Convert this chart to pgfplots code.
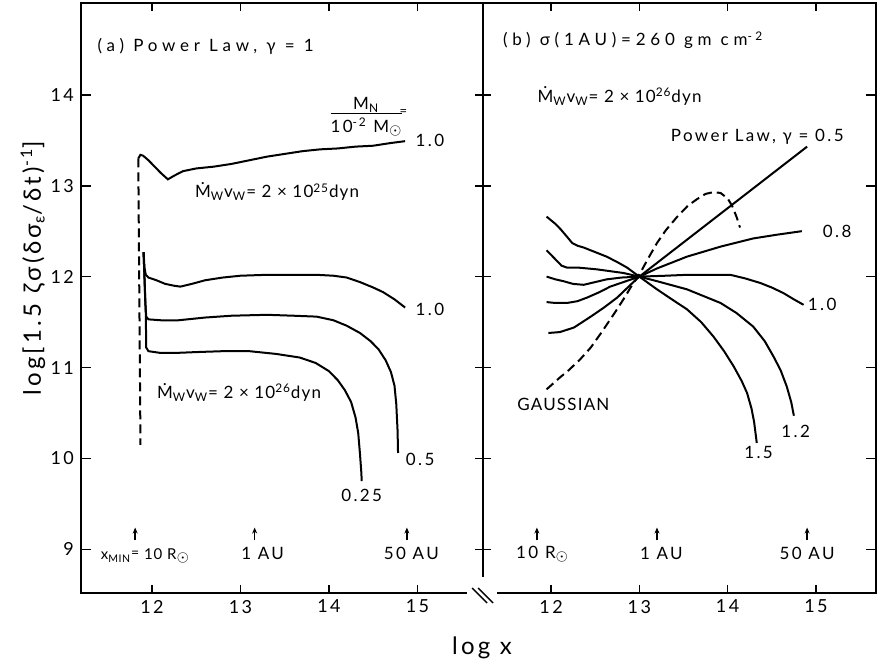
\documentclass[border=0pt]{standalone}
\usepackage{fontspec}
\setmainfont{Lato}[LetterSpace=14]
\usepackage{pgfplots}
\pgfplotsset{compat=1.18}
\usetikzlibrary{arrows.meta}

\newcommand{\Md}{\ooalign{M\cr\hidewidth\raisebox{0.78em}{.}\hidewidth\cr}}
\newcommand{\subs}[1]{\textsubscript{#1}}
\newcommand{\sups}[1]{\textsuperscript{#1}}
\newcommand{\sun}{\raisebox{-0.25ex}{\scriptsize$\odot$}}
\newcommand{\tight}{\addfontfeatures{LetterSpace=7}}
\newcommand{\wide}[1]{\addfontfeatures{LetterSpace=#1}}

\tikzset{
  note/.style={font=\fontsize{8.5}{10}\selectfont, inner sep=1pt},
  dashy/.style={dash pattern=on 4.5pt off 2.5pt},
  arr/.style={-{Stealth[length=3pt,width=2.5pt]}, line width=0.7pt},
}
\pgfplotsset{
  panel/.style={
    scale only axis,
    height=295pt,
    ymin=8.52, ymax=15.01,
    xtick={12,13,14,15}, ytick={9,10,11,12,13,14},
    tick align=inside,
    major tick length=4pt,
    ytick pos=both,
    axis line style={line width=0.9pt},
    every tick/.style={draw=black, line width=0.8pt},
    ticklabel style={font=\fontsize{9}{10}\selectfont},
    /pgf/number format/assume math mode=true,
    clip=false,
    every axis plot post/.append style={line width=1pt, black, mark=none},
  },
}

\begin{document}
\begin{tikzpicture}

% ---- panel (a)
\begin{axis}[panel, at={(0,0)}, anchor=south west, width=201pt,
  xmin=11.198, xmax=15.74]

% tick marks
\draw[line width=0.8pt]
  (axis cs:12,8.52) -- (axis cs:12,8.608) (axis cs:13,8.52) -- (axis cs:13,8.608)
  (axis cs:14,8.52) -- (axis cs:14,8.608) (axis cs:15,8.52) -- (axis cs:15,8.608)
  (axis cs:12,15.01) -- (axis cs:12,14.933) (axis cs:13,15.01) -- (axis cs:13,14.933)
  (axis cs:14,15.01) -- (axis cs:14,14.933) (axis cs:15,15.01) -- (axis cs:15,14.933)
  (axis cs:11.198,9) -- (axis cs:11.311,9) (axis cs:11.198,10) -- (axis cs:11.311,10)
  (axis cs:11.198,11) -- (axis cs:11.311,11) (axis cs:11.198,12) -- (axis cs:11.311,12)
  (axis cs:11.198,13) -- (axis cs:11.311,13) (axis cs:11.198,14) -- (axis cs:11.311,14)
  (axis cs:15.684,9) -- (axis cs:15.797,9) (axis cs:15.684,10) -- (axis cs:15.797,10)
  (axis cs:15.684,11) -- (axis cs:15.797,11) (axis cs:15.684,12) -- (axis cs:15.797,12)
  (axis cs:15.684,13) -- (axis cs:15.797,13) (axis cs:15.684,14) -- (axis cs:15.797,14);

\addplot[dashy] coordinates {(11.845,13.30) (11.87,10.15)};
% M_N = 1.0, 2e25 dyn
\addplot coordinates {(11.845,13.30) (11.87,13.34) (11.90,13.33) (11.96,13.28)
  (12.02,13.22) (12.10,13.14) (12.18,13.07) (12.25,13.11) (12.35,13.16)
  (12.50,13.19) (12.70,13.21) (12.90,13.24) (13.10,13.28) (13.30,13.32)
  (13.50,13.35) (13.70,13.38) (13.90,13.40) (14.10,13.41) (14.30,13.43)
  (14.50,13.44) (14.70,13.47) (14.86,13.49)};
% M_N = 1.0, 2e26 dyn
\addplot coordinates {(11.905,12.27) (11.915,12.10) (11.93,12.02) (11.96,11.99)
  (12.05,11.96) (12.15,11.92) (12.25,11.90) (12.32,11.89) (12.45,11.92)
  (12.60,11.96) (12.80,11.99) (13.00,12.01) (13.30,12.02) (13.60,12.02)
  (13.86,12.02) (14.05,12.01) (14.20,11.99) (14.35,11.94) (14.50,11.88)
  (14.61,11.83) (14.74,11.75) (14.86,11.66)};
% M_N = 0.5
\addplot coordinates {(11.905,12.27) (11.925,11.70) (11.935,11.56) (11.96,11.53)
  (12.10,11.52) (12.30,11.52) (12.60,11.55) (12.90,11.57) (13.30,11.58)
  (13.60,11.57) (13.86,11.56) (14.05,11.52) (14.20,11.46) (14.35,11.38)
  (14.47,11.29) (14.56,11.20) (14.64,11.08) (14.70,10.95) (14.74,10.80)
  (14.76,10.60) (14.775,10.30) (14.78,10.06)};
% M_N = 0.25
\addplot coordinates {(11.905,12.27) (11.93,11.60) (11.935,11.22) (11.96,11.18)
  (12.10,11.16) (12.25,11.16) (12.50,11.17) (12.80,11.18) (13.10,11.18)
  (13.40,11.15) (13.67,11.11) (13.85,11.05) (14.00,10.96) (14.10,10.86)
  (14.18,10.75) (14.25,10.62) (14.30,10.45) (14.33,10.28) (14.35,10.05)
  (14.365,9.85) (14.37,9.75)};

\node[note, anchor=west] at (axis cs:11.36,14.53) {\wide{28}(a) Power Law, γ = 1};
\node[note] at (axis cs:14.42,13.76) {\begin{tabular}{@{}c@{}}M\subs{N}\\[-1pt]\hline\rule{0pt}{9pt}10\sups{-2} M\sun\end{tabular}};
\node[note, font=\fontsize{6.5}{7}\selectfont] at (axis cs:14.84,13.81) {=};
\node[note] at (axis cs:15.14,13.50) {1.0};
\node[note, anchor=west] at (axis cs:12.46,12.93) {\tight\Md\subs{W}v\subs{W}= 2 × 10\sups{25}dyn};
\node[note] at (axis cs:15.14,11.64) {1.0};
\node[note, anchor=west] at (axis cs:12.03,10.72) {\tight\Md\subs{W}v\subs{W}= 2 × 10\sups{26}dyn};
\node[note] at (axis cs:15.03,9.99) {0.5};
\node[note] at (axis cs:14.37,9.59) {0.25};

\draw[arr] (axis cs:11.81,9.10) -- (axis cs:11.81,9.24);
\draw[arr] (axis cs:13.16,9.10) -- (axis cs:13.16,9.24);
\draw[arr] (axis cs:14.88,9.10) -- (axis cs:14.88,9.24);
\node[note, font=\fontsize{7.5}{9}\selectfont] at (axis cs:11.92,8.93) {\wide{6}x\subs{MIN}\raisebox{0.3ex}{\scriptsize=} 10 R\sun};
\node[note] at (axis cs:13.25,8.95) {1 AU};
\node[note] at (axis cs:14.93,8.95) {50 AU};

\node[rotate=90, font=\fontsize{12}{14}\selectfont] at ([xshift=-24pt]rel axis cs:0,0.55)
  {log[1.5 ζσ(δσ\subs{ε}/δt)\sups{-1}]};
\end{axis}

% ---- panel (b)
\begin{axis}[panel, at={(201pt,0)}, anchor=south west, width=196.5pt,
  xmin=11.23, xmax=15.68, yticklabels={}]

% tick marks
\draw[line width=0.8pt]
  (axis cs:12,8.52) -- (axis cs:12,8.608) (axis cs:13,8.52) -- (axis cs:13,8.608)
  (axis cs:14,8.52) -- (axis cs:14,8.608) (axis cs:15,8.52) -- (axis cs:15,8.608)
  (axis cs:12,15.01) -- (axis cs:12,14.933) (axis cs:13,15.01) -- (axis cs:13,14.933)
  (axis cs:14,15.01) -- (axis cs:14,14.933) (axis cs:15,15.01) -- (axis cs:15,14.933)
  (axis cs:15.68,9) -- (axis cs:15.567,9) (axis cs:15.68,10) -- (axis cs:15.567,10)
  (axis cs:15.68,11) -- (axis cs:15.567,11) (axis cs:15.68,12) -- (axis cs:15.567,12)
  (axis cs:15.68,13) -- (axis cs:15.567,13) (axis cs:15.68,14) -- (axis cs:15.567,14);

% gamma = 1.5
\addplot coordinates {(11.95,12.66) (12.05,12.58) (12.11,12.52) (12.18,12.44)
  (12.24,12.37) (12.30,12.34) (12.37,12.32) (12.50,12.27) (12.63,12.22)
  (12.75,12.16) (12.86,12.10) (13.00,12.00) (13.20,11.86) (13.40,11.73)
  (13.54,11.64) (13.70,11.50) (13.84,11.34) (13.96,11.18) (14.07,11.01)
  (14.16,10.85) (14.22,10.72) (14.27,10.55) (14.30,10.40) (14.33,10.17)};
% gamma = 1.2
\addplot coordinates {(11.95,12.29) (12.05,12.19) (12.12,12.12) (12.18,12.10)
  (12.30,12.10) (12.52,12.08) (12.82,12.04) (13.00,12.00) (13.20,11.95)
  (13.54,11.86) (13.92,11.71) (14.10,11.60) (14.29,11.45) (14.42,11.29)
  (14.52,11.12) (14.60,10.97) (14.67,10.79) (14.72,10.62) (14.75,10.47)};
% gamma = 1.0
\addplot coordinates {(11.95,12.00) (12.05,11.97) (12.14,11.95) (12.25,11.92)
  (12.37,11.91) (12.50,11.94) (12.63,11.97) (12.80,11.99) (13.00,12.00)
  (13.30,12.01) (13.54,12.02) (13.80,12.02) (14.03,12.02) (14.20,11.98)
  (14.37,11.93) (14.50,11.88) (14.63,11.82) (14.75,11.75) (14.86,11.69)};
% gamma = 0.8
\addplot coordinates {(11.95,11.72) (12.05,11.71) (12.18,11.71) (12.30,11.73)
  (12.41,11.77) (12.55,11.83) (12.67,11.89) (12.85,11.95) (13.00,12.00)
  (13.20,12.09) (13.54,12.22) (13.92,12.33) (14.29,12.42) (14.55,12.46)
  (14.84,12.50)};
% gamma = 0.5
\addplot coordinates {(11.97,11.38) (12.10,11.39) (12.26,11.44) (12.45,11.56)
  (12.60,11.66) (12.75,11.77) (12.90,11.91) (13.00,12.00) (14.90,13.43)};
% Gaussian
\addplot[dashy] coordinates {(11.95,10.76) (12.10,10.89) (12.20,10.97) (12.33,11.09)
  (12.45,11.22) (12.56,11.37) (12.63,11.47) (12.72,11.60) (12.82,11.75)
  (12.92,11.91) (13.01,12.04) (13.10,12.20) (13.20,12.37) (13.30,12.51)
  (13.43,12.66) (13.55,12.78) (13.65,12.85) (13.75,12.91) (13.84,12.93)
  (13.92,12.92) (14.00,12.86) (14.05,12.78) (14.10,12.66) (14.14,12.54)};

\node[note, anchor=west] at (axis cs:11.43,14.60) {\wide{28}(b) σ(1AU)=260 gm cm\sups{-2}};
\node[note, anchor=west] at (axis cs:11.82,13.98) {\tight\Md\subs{W}v\subs{W}= 2 × 10\sups{26}dyn};
\node[note, anchor=west] at (axis cs:13.33,13.54) {Power Law, γ = 0.5};
\node[note] at (axis cs:15.24,12.50) {0.8};
\node[note] at (axis cs:15.07,11.69) {1.0};
\node[note] at (axis cs:14.77,10.30) {1.2};
\node[note] at (axis cs:14.35,10.07) {1.5};
\node[note] at (axis cs:12.14,10.59) {\tight GAUSSIAN};

\draw[arr] (axis cs:11.84,9.10) -- (axis cs:11.84,9.24);
\draw[arr] (axis cs:13.20,9.10) -- (axis cs:13.20,9.24);
\draw[arr] (axis cs:14.90,9.10) -- (axis cs:14.90,9.24);
\node[note] at (axis cs:11.90,8.95) {10 R\sun};
\node[note] at (axis cs:13.25,8.95) {1 AU};
\node[note] at (axis cs:14.90,8.95) {50 AU};
\end{axis}

% axis break on the shared bottom line
\fill[white] (193pt,-1.5pt) rectangle (208pt,8pt);
\draw[line width=0.7pt] (195.5pt,2.5pt) -- ++(7.5pt,-7.5pt);
\draw[line width=0.7pt] (198.5pt,2.5pt) -- ++(7.5pt,-7.5pt);

\node[font=\fontsize{12}{14}\selectfont] at (200.5pt,-27.5pt) {log x};

\pgfresetboundingbox
\path[use as bounding box] (-40.5pt,-34.5pt) rectangle (398pt,296.5pt);
\end{tikzpicture}
\end{document}
